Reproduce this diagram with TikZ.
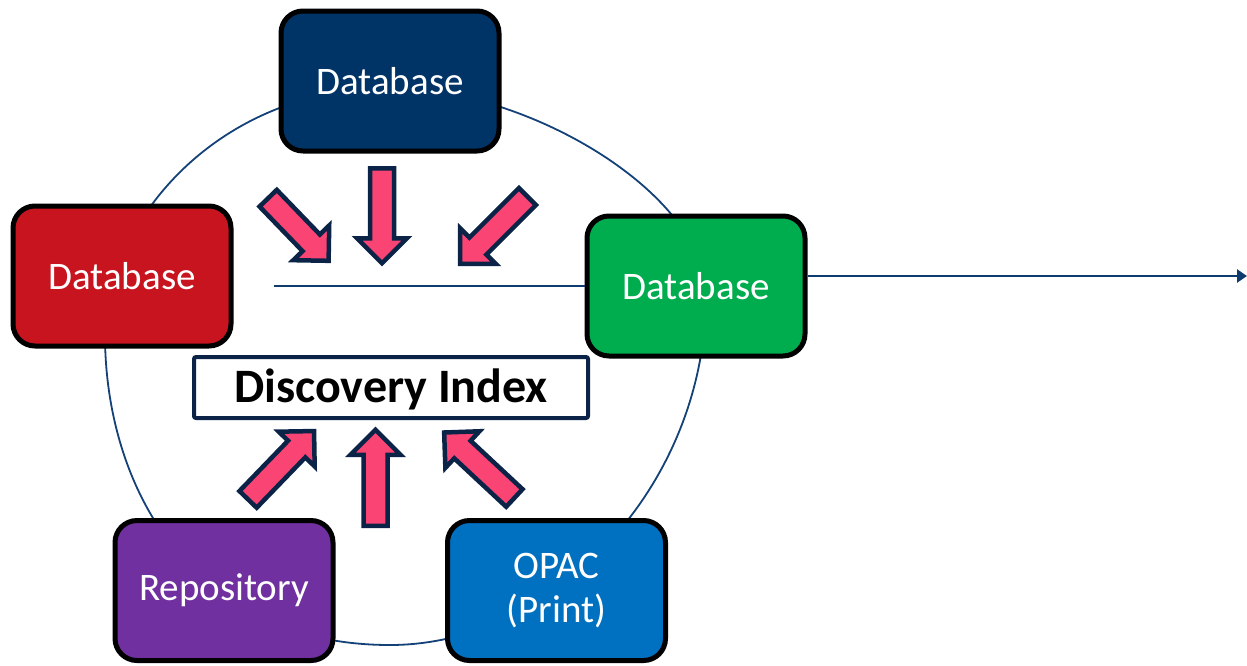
\documentclass[tikz,border=0pt]{standalone}
\usepackage{fontspec}
\setmainfont{Carlito}
\usetikzlibrary{shapes.arrows,arrows.meta}
\definecolor{topnavy}{RGB}{0,51,102}
\definecolor{dbred}{RGB}{200,20,30}
\definecolor{dbgreen}{RGB}{0,173,78}
\definecolor{repopurple}{RGB}{112,48,160}
\definecolor{opacblue}{RGB}{0,112,192}
\definecolor{pinkfill}{RGB}{249,68,116}
\definecolor{arrowedge}{RGB}{10,35,70}
\definecolor{ringline}{RGB}{20,65,120}
\definecolor{linenavy}{RGB}{15,60,110}
\begin{document}
\begin{tikzpicture}[x=1pt,y=-1pt,
  srcbox/.style={draw=black, line width=5pt, rounded corners=22pt,
    minimum width=218pt, minimum height=140pt, inner sep=0pt,
    text=white, font=\fontsize{39}{44}\selectfont, align=center},
  pinkarrow/.style={single arrow, draw=arrowedge, fill=pinkfill,
    line width=4.5pt, line join=miter, inner sep=0pt, inner ysep=9.75pt,
    single arrow head extend=13pt, minimum height=#1, anchor=tail},
  navyline/.style={draw=linenavy, line width=2.5pt}]
\useasboundingbox (0,0) rectangle (1247,665);

% ring behind the boxes
\draw[ringline, line width=1.8pt]
  (105,335) .. controls (105,225) and (215,88) .. (390,88)
            .. controls (530,88) and (706,195) .. (706,295)
            .. controls (706,485) and (555,645) .. (390,645)
            .. controls (190,645) and (105,485) .. cycle;

% source boxes
\node[srcbox, fill=topnavy] (dbtop) at (390,81) {Database};
\node[srcbox, fill=dbred] (dbred) at (122,276) {Database};
\node[srcbox, fill=dbgreen] (dbgreen) at (696,286) {Database};
\node[srcbox, fill=repopurple] (repo) at (224,590.5) {Repository};
\node[srcbox, fill=opacblue] (opac) at (556.5,590.5) {OPAC\\(Print)};

% discovery index
\node[draw=arrowedge, line width=4pt, rounded corners=2pt,
  minimum width=394pt, minimum height=61pt, inner sep=0pt,
  text height=40pt, text depth=10pt,
  font=\bfseries\fontsize{48}{58}\selectfont] (idx) at (391,387.5) {Discovery Index};

% lines
\coordinate (lineL) at (274,286);
\coordinate (outR) at (1247,276);
\draw[navyline] (lineL) -- (dbgreen.west);
\draw[navyline, -{Triangle[length=10pt,width=13pt]}] ([yshift=10pt]dbgreen.east) -- (outR);

% block arrows
\node[pinkarrow=87pt, rotate=-46] (a1) at (266.6,196.6) {};
\node[pinkarrow=95pt, rotate=-90] (a2) at (382,166) {};
\node[pinkarrow=95pt, rotate=-135] (a3) at (529,195) {};
\node[pinkarrow=95pt, rotate=46] (a4) at (246.5,501) {};
\node[pinkarrow=96pt, rotate=90] (a5) at (375.5,528) {};
\node[pinkarrow=96pt, rotate=137] (a6) at (516,499.5) {};
\end{tikzpicture}
\end{document}
